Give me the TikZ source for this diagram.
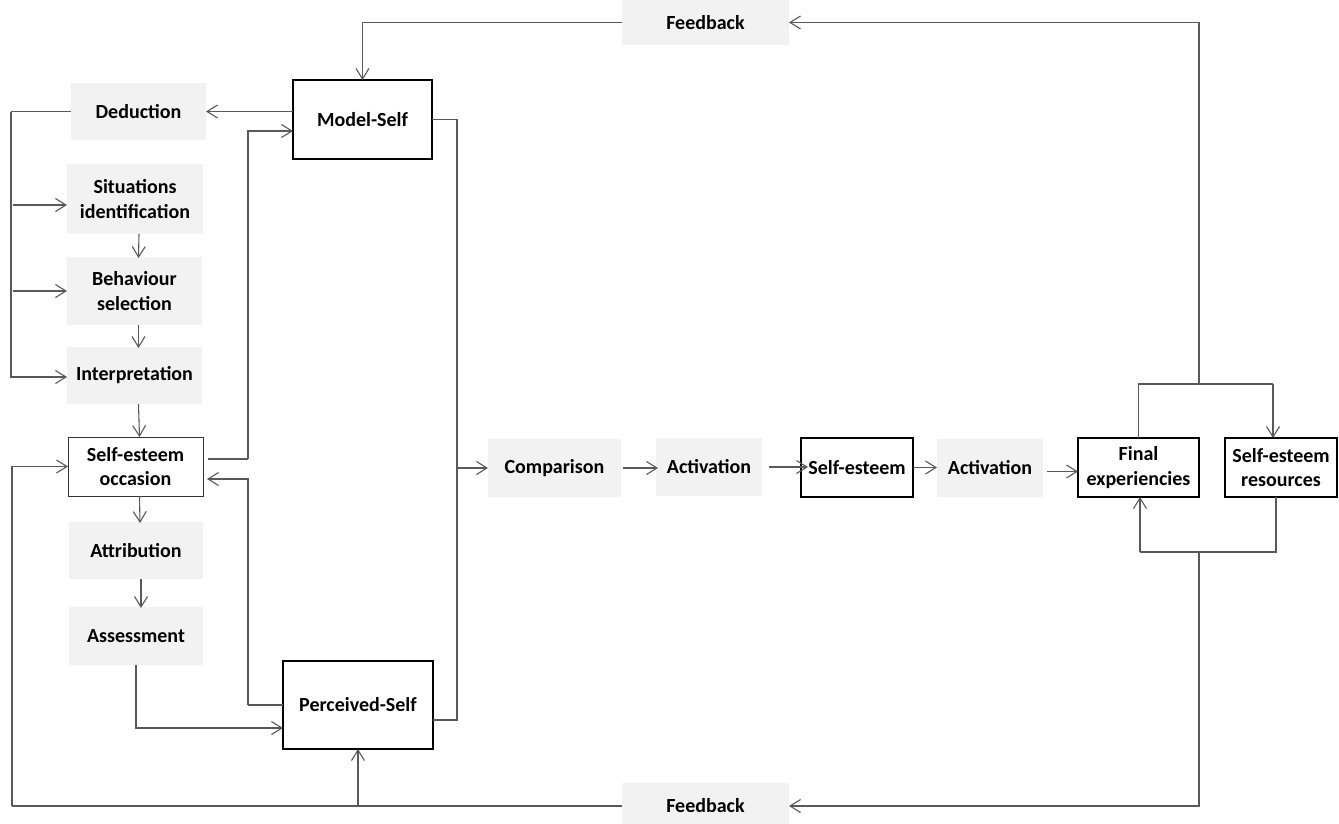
\documentclass[tikz,border=0pt]{standalone}
\usepackage{fontspec}
\setmainfont{Carlito}
\usetikzlibrary{arrows.meta}
\definecolor{boxgray}{HTML}{F2F2F2}
\definecolor{linegray}{HTML}{595959}
\begin{document}
\begin{tikzpicture}[x=1pt,y=-1pt,
  every node/.style={font=\fontsize{20}{24.5}\selectfont\bfseries, align=center, inner sep=0pt, outer sep=0pt, text=black},
  gbox/.style={fill=boxgray},
  wbox/.style={fill=white, draw=black, line width=2pt},
  tbox/.style={fill=white, draw=black!80, line width=1pt},
  conn/.style={draw=linegray, line width=1.1pt},
  arr/.style={conn, -{Straight Barb[length=10.5pt,width=13pt]}}
]
\fill[white] (0,0) rectangle (1339,823);
\useasboundingbox (0,0) rectangle (1339,823);

% nodes
\node[gbox, minimum width=167, minimum height=45] (fbtop) at (705.5,22.5) {Feedback};
\node[gbox, minimum width=167, minimum height=46] (fbbot) at (705.5,806) {Feedback};
\node[gbox, minimum width=135, minimum height=57] (ded) at (138.5,111.5) {Deduction};
\node[gbox, minimum width=136, minimum height=70] (sit) at (135,199) {Situations\\identification};
\node[gbox, minimum width=135, minimum height=68] (beh) at (134.5,291) {Behaviour\\selection};
\node[gbox, minimum width=135, minimum height=57] (intp) at (134.5,375.5) {Interpretation};
\node[tbox, minimum width=135, minimum height=59] (seocc) at (135.5,466.5) {Self-esteem\\occasion};
\node[gbox, minimum width=134, minimum height=57] (attr) at (136,550.5) {Attribution};
\node[gbox, minimum width=134, minimum height=58] (asse) at (136,636) {Assessment};
\node[wbox, minimum width=139, minimum height=79] (model) at (362.5,119.5) {Model-Self};
\node[wbox, minimum width=150, minimum height=88] (perc) at (358,705) {Perceived-Self};
\node[gbox, minimum width=133, minimum height=58] (comp) at (554.5,468) {Comparison};
\node[gbox, minimum width=106, minimum height=58] (act1) at (709,467) {Activation};
\node[wbox, minimum width=112, minimum height=59] (se) at (857,467.5) {Self-esteem};
\node[gbox, minimum width=106, minimum height=58] (act2) at (990,468) {Activation};
\node[wbox, minimum width=121, minimum height=59] (fin) at (1138.5,467.5) {Final\\experiencies};
\node[wbox, minimum width=112, minimum height=59] (res) at (1281,467.5) {Self-esteem\\resources};

% helper coordinates
\coordinate (jTop) at (1199,384);
\coordinate (jBot) at (1199,552);
\coordinate (cL) at (11,111.5);
\coordinate (cBL) at (12,806);
\coordinate (cOM) at (248,459);
\coordinate (cPL) at (248,705);
\coordinate (cRB) at (457,720);
\coordinate (sitIn) at ([yshift=-6]sit.west);
\coordinate (finIn) at ([yshift=-4]fin.west);

% feedback loops
\draw[arr] (fbtop.west) -| (model.north);
\draw[arr] (jTop) |- (fbtop.east);
\draw[conn] (fin.north) -- (fin.north |- jTop) -- ([xshift=-8]res.north |- jTop);
\draw[arr] ([xshift=-8]res.north |- jTop) -- ([xshift=-8]res.north);
\draw[conn] ([xshift=-5]res.south) -- ([xshift=-5]res.south |- jBot) -- ([xshift=1.5]fin.south |- jBot);
\draw[arr] ([xshift=1.5]fin.south |- jBot) -- ([xshift=1.5]fin.south);
\draw[arr] (jBot) |- (fbbot.east);
\draw[conn] (fbbot.west) -- (cBL);
\draw[arr] (cBL) |- (seocc.west);
\draw[arr] (perc.south |- fbbot.west) -- (perc.south);

% left column
\draw[arr] (model.west |- ded.east) -- (ded.east);
\draw[conn] (ded.west) -- (cL);
\draw[arr] (cL) |- ([yshift=-1.5]intp.west);
\draw[arr] ([xshift=2]cL |- sitIn) -- (sitIn);
\draw[arr] ([xshift=2]cL |- beh.west) -- (beh.west);
\draw[arr] ([xshift=4]sit.south) -- ([xshift=4,yshift=-1]beh.north);
\draw[arr] ([xshift=4]beh.south) -- ([xshift=4,yshift=-1]intp.north);
\draw[arr] ([xshift=4]intp.south) -- ([xshift=4]seocc.north);
\draw[arr] ([xshift=4]seocc.south) -- ([xshift=4,yshift=-1]attr.north);
\draw[arr] ([xshift=5]attr.south) -- ([xshift=5,yshift=-1]asse.north);
\draw[arr] (asse.south) |- ([yshift=-23]perc.west);

% self links
\draw[conn] ([xshift=5,yshift=7.5]seocc.east) -- (cOM);
\draw[arr] (cOM) |- ([yshift=-11.5]model.west);
\draw[conn] (perc.west) -- (cPL);
\draw[arr, shorten >=4pt] (cPL) |- ([yshift=-12.5]seocc.east);
\draw[conn] (model.east) -| (cRB) -- ([yshift=-15]perc.east);
\draw[arr] (cRB |- comp.west) -- (comp.west);

% main chain
\draw[arr] ([xshift=2]comp.east) -- ([xshift=2]comp.east -| act1.west);
\draw[arr] ([xshift=7]act1.east) -- ([xshift=7]act1.east -| se.west);
\draw[arr] (se.east) -- (se.east -| act2.west);
\draw[arr] ([xshift=4]act2.east |- finIn) -- (finIn);
\end{tikzpicture}
\end{document}
